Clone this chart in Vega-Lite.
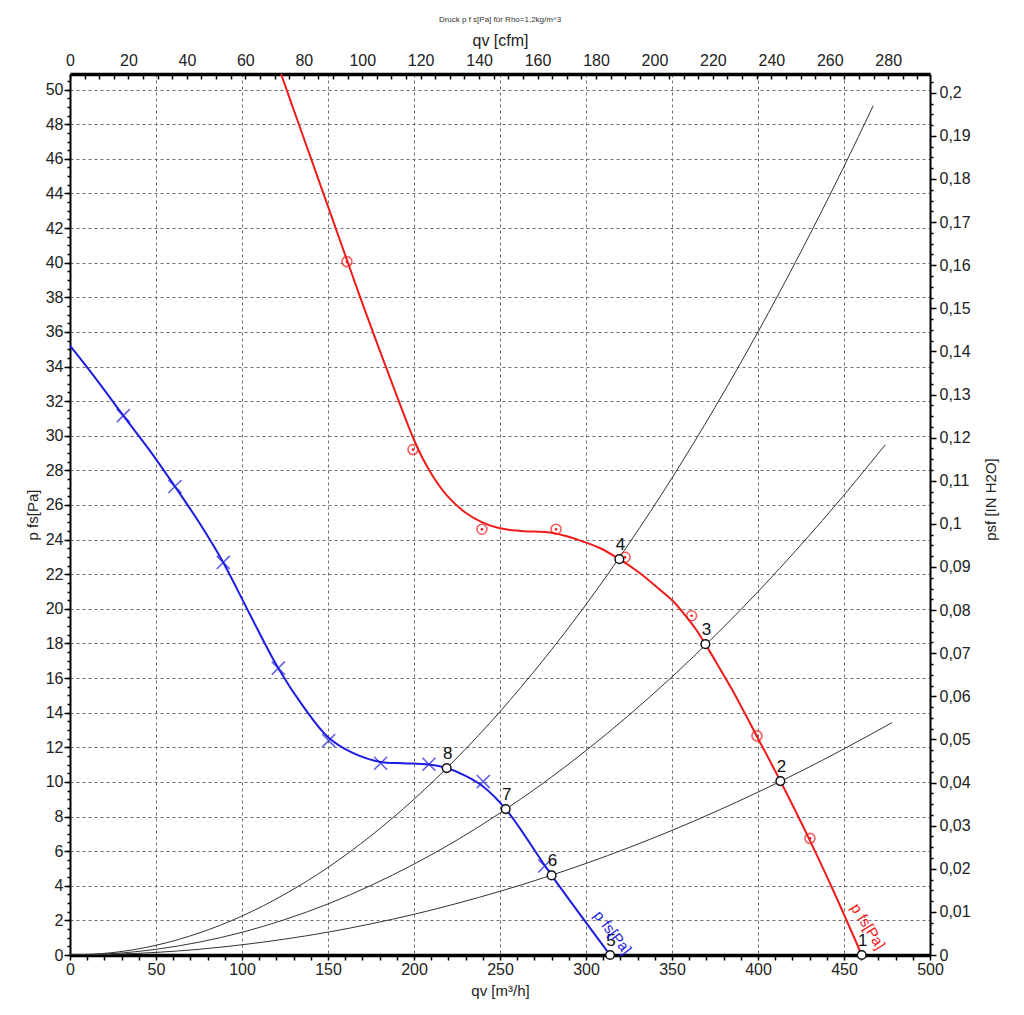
{
  "$schema": "https://vega.github.io/schema/vega-lite/v6.json",
  "autosize": {"type": "none"},
  "padding": {"left": 70, "top": 74, "right": 94, "bottom": 60},
  "width": 860,
  "height": 881,
  "background": "white",
  "title": {"text": "Druck p  f s[Pa] für Rho=1,2kg/m^3", "fontSize": 8, "fontWeight": "normal", "font": "Liberation Sans", "color": "#333", "anchor": "middle", "offset": 8},
  "config": {
    "view": {"stroke": null},
    "axis": {
      "labelFont": "Liberation Sans Narrow, Liberation Sans, Arial",
      "titleFont": "Liberation Sans Narrow, Liberation Sans, Arial",
      "labelFontSize": 16,
      "titleFontSize": 15,
      "titleFontWeight": "normal",
      "labelColor": "#222",
      "titleColor": "#222",
      "tickColor": "#000",
      "domainColor": "#000",
      "labelFlush": false
    }
  },
  "datasets": {
    "blue": [
      {"q": 0, "p": 35.2}, {"q": 15, "p": 33.3}, {"q": 31, "p": 31.16}, {"q": 46, "p": 29.2},
      {"q": 61, "p": 27.07}, {"q": 75, "p": 25.0}, {"q": 89.1, "p": 22.68}, {"q": 105, "p": 19.6},
      {"q": 121.1, "p": 16.57}, {"q": 135.7, "p": 14.35}, {"q": 150.4, "p": 12.55}, {"q": 164.7, "p": 11.66},
      {"q": 180.6, "p": 11.15}, {"q": 193.8, "p": 11.08}, {"q": 208.7, "p": 11.0}, {"q": 219, "p": 10.8},
      {"q": 230, "p": 10.35}, {"q": 240, "p": 9.75}, {"q": 253.3, "p": 8.43}, {"q": 280, "p": 4.6},
      {"q": 314, "p": 0}
    ],
    "red": [
      {"q": 122.7, "p": 50.9}, {"q": 130, "p": 48.85}, {"q": 140, "p": 46.05}, {"q": 150, "p": 43.25},
      {"q": 160.5, "p": 40.3}, {"q": 170, "p": 37.65}, {"q": 180, "p": 34.95}, {"q": 190, "p": 32.3},
      {"q": 199, "p": 30.0}, {"q": 205, "p": 28.7}, {"q": 212, "p": 27.5}, {"q": 220, "p": 26.45},
      {"q": 230, "p": 25.55}, {"q": 240, "p": 24.98}, {"q": 250, "p": 24.65}, {"q": 262, "p": 24.5},
      {"q": 281, "p": 24.38}, {"q": 295, "p": 24.0}, {"q": 308.3, "p": 23.5}, {"q": 319.4, "p": 22.87},
      {"q": 331.4, "p": 22.06}, {"q": 343, "p": 21.1}, {"q": 350.8, "p": 20.42}, {"q": 358.5, "p": 19.52},
      {"q": 364.4, "p": 18.75}, {"q": 369.4, "p": 17.96}, {"q": 376, "p": 16.86}, {"q": 385, "p": 15.32},
      {"q": 399, "p": 12.7}, {"q": 413, "p": 10.05}, {"q": 430, "p": 6.65}, {"q": 445, "p": 3.45},
      {"q": 460.3, "p": 0}
    ],
    "sys": [
      {"c": "a", "q": 0, "p": 0}, {"c": "a", "q": 25, "p": 0.14}, {"c": "a", "q": 50, "p": 0.56}, {"c": "a", "q": 75, "p": 1.27},
      {"c": "a", "q": 100, "p": 2.25}, {"c": "a", "q": 125, "p": 3.52}, {"c": "a", "q": 150, "p": 5.06}, {"c": "a", "q": 175, "p": 6.89},
      {"c": "a", "q": 200, "p": 9.0}, {"c": "a", "q": 225, "p": 11.39}, {"c": "a", "q": 250, "p": 14.06}, {"c": "a", "q": 275, "p": 17.02},
      {"c": "a", "q": 300, "p": 20.25}, {"c": "a", "q": 325, "p": 23.77}, {"c": "a", "q": 350, "p": 27.56}, {"c": "a", "q": 375, "p": 31.64},
      {"c": "a", "q": 400, "p": 36.0}, {"c": "a", "q": 425, "p": 40.64}, {"c": "a", "q": 450, "p": 45.56}, {"c": "a", "q": 467, "p": 49.07},
      {"c": "b", "q": 0, "p": 0}, {"c": "b", "q": 25, "p": 0.08}, {"c": "b", "q": 50, "p": 0.33}, {"c": "b", "q": 75, "p": 0.74},
      {"c": "b", "q": 100, "p": 1.31}, {"c": "b", "q": 125, "p": 2.05}, {"c": "b", "q": 150, "p": 2.95}, {"c": "b", "q": 175, "p": 4.02},
      {"c": "b", "q": 200, "p": 5.25}, {"c": "b", "q": 225, "p": 6.64}, {"c": "b", "q": 250, "p": 8.2}, {"c": "b", "q": 275, "p": 9.92},
      {"c": "b", "q": 300, "p": 11.81}, {"c": "b", "q": 325, "p": 13.86}, {"c": "b", "q": 350, "p": 16.07}, {"c": "b", "q": 375, "p": 18.45},
      {"c": "b", "q": 400, "p": 20.99}, {"c": "b", "q": 425, "p": 23.7}, {"c": "b", "q": 450, "p": 26.57}, {"c": "b", "q": 474, "p": 29.48},
      {"c": "c", "q": 0, "p": 0}, {"c": "c", "q": 25, "p": 0.04}, {"c": "c", "q": 50, "p": 0.15}, {"c": "c", "q": 75, "p": 0.33},
      {"c": "c", "q": 100, "p": 0.59}, {"c": "c", "q": 125, "p": 0.92}, {"c": "c", "q": 150, "p": 1.32}, {"c": "c", "q": 175, "p": 1.8},
      {"c": "c", "q": 200, "p": 2.35}, {"c": "c", "q": 225, "p": 2.98}, {"c": "c", "q": 250, "p": 3.68}, {"c": "c", "q": 275, "p": 4.45},
      {"c": "c", "q": 300, "p": 5.29}, {"c": "c", "q": 325, "p": 6.21}, {"c": "c", "q": 350, "p": 7.2}, {"c": "c", "q": 375, "p": 8.27},
      {"c": "c", "q": 400, "p": 9.41}, {"c": "c", "q": 425, "p": 10.62}, {"c": "c", "q": 450, "p": 11.91}, {"c": "c", "q": 478, "p": 13.43}
    ],
    "bluepts": [
      {"q": 31, "p": 31.16}, {"q": 61, "p": 27.07}, {"q": 89.1, "p": 22.68}, {"q": 121.1, "p": 16.57},
      {"q": 150.4, "p": 12.39}, {"q": 180.6, "p": 11.08}, {"q": 208.7, "p": 11.02}, {"q": 240.3, "p": 10.02},
      {"q": 276, "p": 5.14}
    ],
    "redpts": [
      {"q": 161, "p": 40.06}, {"q": 199.4, "p": 29.2}, {"q": 239.5, "p": 24.6}, {"q": 282.6, "p": 24.6},
      {"q": 322.7, "p": 22.98}, {"q": 361.4, "p": 19.6}, {"q": 399.4, "p": 12.66}, {"q": 430.2, "p": 6.74}
    ],
    "ops": [
      {"n": "1", "q": 460.3, "p": 0}, {"n": "2", "q": 413, "p": 10.05}, {"n": "3", "q": 369.4, "p": 17.96},
      {"n": "4", "q": 319.4, "p": 22.87}, {"n": "5", "q": 314, "p": 0}, {"n": "6", "q": 280, "p": 4.6},
      {"n": "7", "q": 253.3, "p": 8.43}, {"n": "8", "q": 219, "p": 10.8}
    ],
    "bluelabel": [{"t": "p  fs[Pa]", "q": 315.5, "p": 1.3}],
    "redlabel": [{"t": "p  fs[Pa]", "q": 464, "p": 1.65}]
  },
  "layer": [
    {
      "encoding": {
        "x": {
          "field": "q", "type": "quantitative",
          "scale": {"domain": [0, 500], "nice": false, "zero": false},
          "axis": {
            "orient": "bottom", "title": "qv [m³/h]",
            "values": [0, 50, 100, 150, 200, 250, 300, 350, 400, 450, 500],
            "grid": true, "gridDash": [3, 3], "gridColor": "#6e6e6e", "gridWidth": 1,
            "domainWidth": 3.5, "ticks": false, "labelPadding": 6, "titlePadding": 6
          }
        },
        "y": {
          "field": "p", "type": "quantitative",
          "scale": {"domain": [0, 50.9], "nice": false, "zero": false},
          "axis": {
            "orient": "left", "title": "p  fs[Pa]",
            "values": [0, 2, 4, 6, 8, 10, 12, 14, 16, 18, 20, 22, 24, 26, 28, 30, 32, 34, 36, 38, 40, 42, 44, 46, 48, 50],
            "grid": true, "gridDash": [3, 3], "gridColor": "#6e6e6e", "gridWidth": 1,
            "domainWidth": 2, "tickSize": 6, "tickWidth": 1.5, "labelPadding": 1, "titlePadding": 5
          }
        }
      },
      "layer": [
        {
          "data": {"name": "sys"},
          "mark": {"type": "line", "interpolate": "monotone", "color": "#333", "strokeWidth": 1, "clip": true},
          "encoding": {"detail": {"field": "c"}}
        },
        {
          "data": {"name": "red"},
          "mark": {"type": "line", "interpolate": "catmull-rom", "color": "#ee1b1b", "strokeWidth": 2, "clip": true}
        },
        {
          "data": {"name": "blue"},
          "mark": {"type": "line", "interpolate": "catmull-rom", "color": "#1d1de0", "strokeWidth": 2, "clip": true}
        },
        {
          "data": {"name": "redpts"},
          "mark": {"type": "point", "shape": "circle", "filled": false, "color": "#ee1b1b", "size": 100, "strokeWidth": 1.6}
        },
        {
          "data": {"name": "redpts"},
          "mark": {"type": "point", "shape": "circle", "filled": true, "color": "#ee1b1b", "size": 7, "opacity": 1}
        },
        {
          "data": {"name": "bluepts"},
          "mark": {"type": "point", "shape": "M-1,-1L1,1M-1,1L1,-1", "filled": false, "color": "#1d1de0", "size": 170, "strokeWidth": 1.6}
        },
        {
          "data": {"name": "ops"},
          "mark": {"type": "point", "shape": "circle", "filled": true, "fill": "white", "stroke": "#111", "size": 75, "strokeWidth": 1.5, "opacity": 1}
        },
        {
          "data": {"name": "ops"},
          "mark": {"type": "text", "font": "Liberation Sans", "fontSize": 17, "color": "#111", "dx": 1, "dy": -14, "align": "center", "baseline": "middle"},
          "encoding": {"text": {"field": "n"}}
        },
        {
          "data": {"name": "bluelabel"},
          "mark": {"type": "text", "font": "Liberation Sans", "fontSize": 15, "color": "#1d1de0", "angle": 52, "align": "center", "baseline": "middle"},
          "encoding": {"text": {"field": "t"}}
        },
        {
          "data": {"name": "redlabel"},
          "mark": {"type": "text", "font": "Liberation Sans", "fontSize": 15, "color": "#ee1b1b", "angle": 58, "align": "center", "baseline": "middle"},
          "encoding": {"text": {"field": "t"}}
        }
      ]
    },
    {
      "data": {"values": [{"c": 0, "h": 0}]},
      "mark": {"type": "point", "opacity": 0},
      "encoding": {
        "x": {
          "field": "c", "type": "quantitative",
          "scale": {"domain": [0, 294.3], "nice": false, "zero": false},
          "axis": {
            "orient": "top", "title": "qv [cfm]", "titleFontSize": 16,
            "values": [0, 20, 40, 60, 80, 100, 120, 140, 160, 180, 200, 220, 240, 260, 280],
            "grid": false, "domainWidth": 3.5, "ticks": false, "labelPadding": 6, "titlePadding": 4
          }
        },
        "y": {
          "field": "h", "type": "quantitative",
          "scale": {"domain": [0, 0.20435], "nice": false, "zero": false},
          "axis": {
            "orient": "right", "title": "psf [IN H2O]", "titleAngle": 270, "titleY": 425,
            "values": [0, 0.01, 0.02, 0.03, 0.04, 0.05, 0.06, 0.07, 0.08, 0.09, 0.1, 0.11, 0.12, 0.13, 0.14, 0.15, 0.16, 0.17, 0.18, 0.19, 0.2],
            "labelExpr": "replace(format(datum.value, '.2~f'), '.', ',')",
            "grid": false, "domainWidth": 2, "tickSize": 6, "tickWidth": 1.5, "labelPadding": 3, "titlePadding": 28
          }
        }
      }
    },
    {
      "data": {"values": [{"q": 0, "p": 0}]},
      "mark": {"type": "point", "opacity": 0},
      "encoding": {
        "x": {
          "field": "q", "type": "quantitative",
          "scale": {"domain": [0, 500], "nice": false, "zero": false},
          "axis": {"orient": "bottom", "title": null, "labels": false, "domain": false, "grid": false, "tickCount": 50, "tickSize": 5, "tickWidth": 1.5}
        },
        "y": {
          "field": "p", "type": "quantitative",
          "scale": {"domain": [0, 50.9], "nice": false, "zero": false},
          "axis": {"orient": "left", "title": null, "labels": false, "domain": false, "grid": false, "tickCount": 102, "tickSize": 3, "tickWidth": 1.5}
        }
      }
    },
    {
      "data": {"values": [{"c": 0, "h": 0}]},
      "mark": {"type": "point", "opacity": 0},
      "encoding": {
        "x": {
          "field": "c", "type": "quantitative",
          "scale": {"domain": [0, 294.3], "nice": false, "zero": false},
          "axis": {"orient": "top", "title": null, "labels": false, "domain": false, "grid": false, "tickCount": 59, "tickSize": -5, "tickWidth": 1.5}
        },
        "y": {
          "field": "h", "type": "quantitative",
          "scale": {"domain": [0, 0.20435], "nice": false, "zero": false},
          "axis": {
            "orient": "right", "title": null, "labels": false, "domain": false, "grid": false, "tickSize": 3, "tickWidth": 1.5,
            "values": [0.0025, 0.005, 0.0075, 0.0125, 0.015, 0.0175, 0.0225, 0.025, 0.0275, 0.0325, 0.035, 0.0375, 0.0425, 0.045, 0.0475, 0.0525, 0.055, 0.0575, 0.0625, 0.065, 0.0675, 0.0725, 0.075, 0.0775, 0.0825, 0.085, 0.0875, 0.0925, 0.095, 0.0975, 0.1025, 0.105, 0.1075, 0.1125, 0.115, 0.1175, 0.1225, 0.125, 0.1275, 0.1325, 0.135, 0.1375, 0.1425, 0.145, 0.1475, 0.1525, 0.155, 0.1575, 0.1625, 0.165, 0.1675, 0.1725, 0.175, 0.1775, 0.1825, 0.185, 0.1875, 0.1925, 0.195, 0.1975, 0.2025]
          }
        }
      }
    }
  ],
  "resolve": {"scale": {"x": "independent", "y": "independent"}}
}
